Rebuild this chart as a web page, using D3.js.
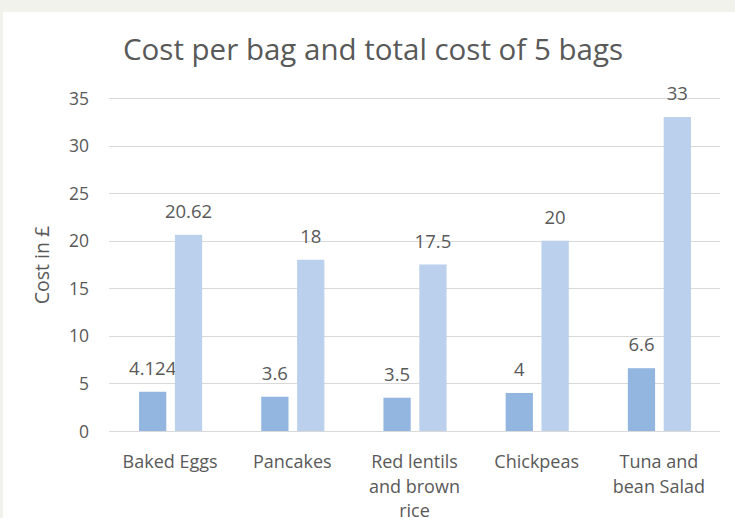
<!DOCTYPE html>
<html>
<head>
<meta charset="utf-8">
<script src="https://cdn.jsdelivr.net/npm/d3@7"></script>
<style>
  html, body { margin: 0; padding: 0; background: #f2f2ec; }
  svg { display: block; }
</style>
</head>
<body>
<svg id="chart" width="735" height="518"></svg>
<script>
const categories = [["Baked Eggs"], ["Pancakes"], ["Red lentils", "and brown", "rice"], ["Chickpeas"], ["Tuna and", "bean Salad"]];
const categoryKeys = ["Baked Eggs", "Pancakes", "Red lentils and brown rice", "Chickpeas", "Tuna and bean Salad"];
const seriesNames = ["Cost per bag", "Total cost of 5 bags"];
const costPerBag = [4.124, 3.6, 3.5, 4, 6.6];
const totalCost = [20.62, 18, 17.5, 20, 33];
const costPerBagLabels = ["4.124", "3.6", "3.5", "4", "6.6"];
const totalCostLabels = ["20.62", "18", "17.5", "20", "33"];
const yTicks = [0, 5, 10, 15, 20, 25, 30, 35];

const svg = d3.select("#chart");
const font = "'Open Sans', sans-serif";
const textColor = "#595959";

svg.append("rect").attr("x", 3).attr("y", 12).attr("width", 732).attr("height", 506).attr("fill", "#ffffff");

const plotLeft = 109, plotRight = 720, plotTop = 98, plotBottom = 431;

const y = d3.scaleLinear().domain([0, 35]).range([plotBottom, plotTop]);
const x0 = d3.scaleBand().domain(categoryKeys).range([plotLeft, plotRight]).padding(0);
const bw = x0.bandwidth();
const x1 = d3.scaleBand().domain(seriesNames).range([bw * 30 / 122, bw * 93 / 122]).paddingInner(0.24).paddingOuter(0);

// gridlines
svg.append("g").selectAll("line").data(yTicks).join("line")
  .attr("x1", plotLeft).attr("x2", plotRight)
  .attr("y1", d => Math.round(y(d)) + 0.5).attr("y2", d => Math.round(y(d)) + 0.5)
  .attr("stroke", "#d9d9d9").attr("stroke-width", 1);

// y axis labels
const yAxis = d3.axisLeft(y).tickValues(yTicks).tickSize(0).tickPadding(0);
const gy = svg.append("g").attr("transform", `translate(89,0)`).call(yAxis);
gy.select(".domain").remove();
gy.selectAll("text").attr("font-family", font).attr("font-size", 17.5).attr("fill", textColor).attr("dy", "0.35em");

// title
svg.append("text").attr("x", 373).attr("y", 60).attr("text-anchor", "middle")
  .attr("font-family", font).attr("font-size", 29.5).attr("fill", textColor)
  .text("Cost per bag and total cost of 5 bags");

// y axis title
svg.append("text").attr("transform", "translate(49,265) rotate(-90)").attr("text-anchor", "middle")
  .attr("font-family", font).attr("font-size", 19.5).attr("fill", textColor)
  .text("Cost in £");

const colors = { "Cost per bag": "#92b6e0", "Total cost of 5 bags": "#bad0ec" };
const seriesData = [
  { name: seriesNames[0], values: costPerBag, labels: costPerBagLabels },
  { name: seriesNames[1], values: totalCost, labels: totalCostLabels }
];

const groups = svg.append("g").selectAll("g").data(categoryKeys).join("g")
  .attr("transform", d => `translate(${x0(d)},0)`);

groups.each(function(cat, i) {
  const g = d3.select(this);
  seriesData.forEach(s => {
    g.append("rect")
      .attr("x", x1(s.name))
      .attr("y", y(s.values[i]))
      .attr("width", x1.bandwidth())
      .attr("height", y(0) - y(s.values[i]))
      .attr("fill", colors[s.name]);
    g.append("text")
      .attr("x", x1(s.name) + x1.bandwidth() / 2)
      .attr("y", y(s.values[i]) - 17)
      .attr("text-anchor", "middle")
      .attr("font-family", font).attr("font-size", 18.5).attr("fill", textColor)
      .text(s.labels[i]);
  });
  const lines = categories[i];
  const t = g.append("text")
    .attr("x", bw / 2)
    .attr("y", 468)
    .attr("text-anchor", "middle")
    .attr("font-family", font).attr("font-size", 18).attr("fill", textColor);
  lines.forEach((ln, k) => {
    t.append("tspan").attr("x", bw / 2).attr("y", 468 + k * 24.5).text(ln);
  });
});
</script>
</body>
</html>
